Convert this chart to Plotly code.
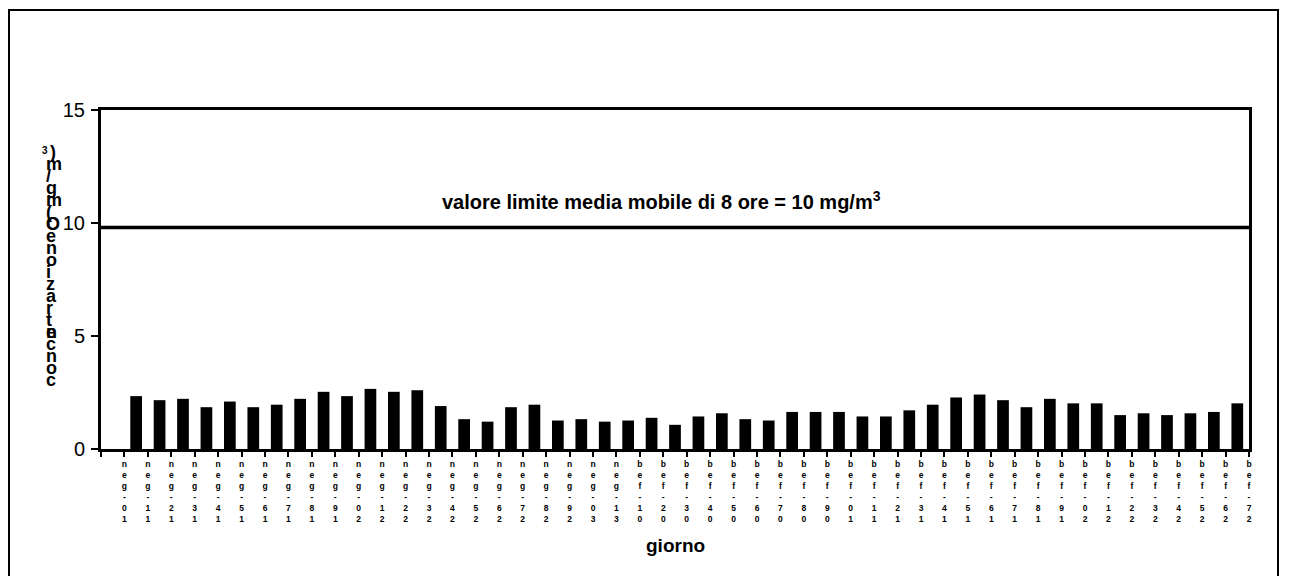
import plotly.graph_objects as go

# giorni (etichette asse x) e concentrazione media giornaliera CO (mg/m3)
giorni = ["10-gen", "11-gen", "12-gen", "13-gen", "14-gen", "15-gen", "16-gen",
          "17-gen", "18-gen", "19-gen", "20-gen", "21-gen", "22-gen", "23-gen",
          "24-gen", "25-gen", "26-gen", "27-gen", "28-gen", "29-gen", "30-gen",
          "31-gen", "01-feb", "02-feb", "03-feb", "04-feb", "05-feb", "06-feb",
          "07-feb", "08-feb", "09-feb", "10-feb", "11-feb", "12-feb", "13-feb",
          "14-feb", "15-feb", "16-feb", "17-feb", "18-feb", "19-feb", "20-feb",
          "21-feb", "22-feb", "23-feb", "24-feb", "25-feb", "26-feb", "27-feb"]
co = [None, 2.34, 2.16, 2.22, 1.85, 2.10, 1.85, 1.96, 2.22, 2.53, 2.34, 2.66,
      2.53, 2.60, 1.90, 1.32, 1.21, 1.85, 1.96, 1.26, 1.32, 1.21, 1.26, 1.38,
      1.07, 1.44, 1.58, 1.32, 1.26, 1.64, 1.64, 1.64, 1.44, 1.44, 1.71, 1.96,
      2.28, 2.41, 2.16, 1.85, 2.22, 2.02, 2.02, 1.50, 1.58, 1.50, 1.58, 1.64,
      2.02]
valore_limite = 9.8
testo_limite = "valore limite media mobile di 8 ore = 10 mg/m<sup>3</sup>"
titolo_y = "concentrazione CO (mg/m"
titolo_x = "giorno"

# la pagina html ha 8px di margine: la figura e' spostata di 8px
OFF = 8
W, H = 1280 - OFF, 586 - 2 * OFF - 2
L, T = 101 - OFF, 110 - OFF
pw, ph = 1148, 339
R, B = W - L - pw, H - T - ph
FONT = "Liberation Sans, Arial, sans-serif"


# posizioni espresse in pixel della finestra -> coordinate paper
def px_x(px):
    return (px - OFF - L) / pw


def px_y(py):
    return (T + ph - (py - OFF)) / ph


x = list(range(len(giorni)))

fig = go.Figure()
fig.add_trace(go.Bar(x=x, y=co, marker=dict(color="black", line=dict(width=0)),
                     showlegend=False))

# etichette impilate (caratteri uno sotto l'altro, letti dal basso)
tickvals = [i - 0.5 for i in range(len(giorni) + 1)]
ticktext = [""] + ["<b>" + "<br>".join(reversed(g)) + "</b>" for g in giorni]

fig.update_layout(
    width=W, height=H,
    margin=dict(l=L, r=R, t=T, b=B),
    paper_bgcolor="white", plot_bgcolor="white",
    bargap=0.5,
    font=dict(family=FONT, color="black"),
    xaxis=dict(range=[-0.5, len(giorni) - 0.5], tickmode="array",
               tickvals=tickvals, ticktext=ticktext, tickangle=0,
               ticks="outside", ticklen=5, tickwidth=2, tickcolor="black",
               showline=True, linewidth=3, linecolor="black", mirror=True,
               showgrid=False, zeroline=False,
               tickfont=dict(size=8.5, family=FONT, color="black")),
    yaxis=dict(range=[0, 15], dtick=5, ticks="outside", ticklen=7,
               tickwidth=2, tickcolor="black", showline=True, linewidth=3,
               linecolor="black", mirror=True, showgrid=False,
               zeroline=False, ticklabelstandoff=2,
               tickfont=dict(size=20, family=FONT, color="black")),
)

# linea del valore limite
fig.add_shape(type="line", xref="paper", yref="y", x0=0, x1=1,
              y0=valore_limite, y1=valore_limite,
              line=dict(color="black", width=3.5))

# cornice esterna
fig.add_shape(type="rect", xref="paper", yref="paper",
              x0=px_x(9), x1=px_x(1278), y0=px_y(10), y1=px_y(600),
              line=dict(color="black", width=2), layer="below")

fig.add_annotation(text="<b>" + testo_limite + "</b>", xref="paper",
                   yref="paper", x=px_x(661), y=px_y(186), showarrow=False,
                   font=dict(size=20, family=FONT, color="black"))
fig.add_annotation(text="<b>" + titolo_x + "</b>", xref="paper",
                   yref="paper", x=0.5, y=px_y(558), showarrow=False,
                   font=dict(size=19, family=FONT, color="black"))

# titolo asse y: caratteri impilati dal basso verso l'alto (senza spazi)
chars = [c for c in reversed(titolo_y) if c != " "]
top = 152
fig.add_annotation(text="<b>)</b>", xref="paper", yref="paper",
                   x=px_x(48), y=px_y(top - 12), showarrow=False,
                   font=dict(size=18, family=FONT, color="black"))
fig.add_annotation(text="<b>3</b>", xref="paper", yref="paper",
                   x=px_x(40), y=px_y(top - 9), showarrow=False,
                   font=dict(size=10, family=FONT, color="black"))
for k, ch in enumerate(chars):
    fig.add_annotation(text="<b>" + ch + "</b>", xref="paper", yref="paper",
                       x=px_x(44), y=px_y(top + k * 12), showarrow=False,
                       font=dict(size=18, family=FONT, color="black"))

fig.write_html("out.html")
